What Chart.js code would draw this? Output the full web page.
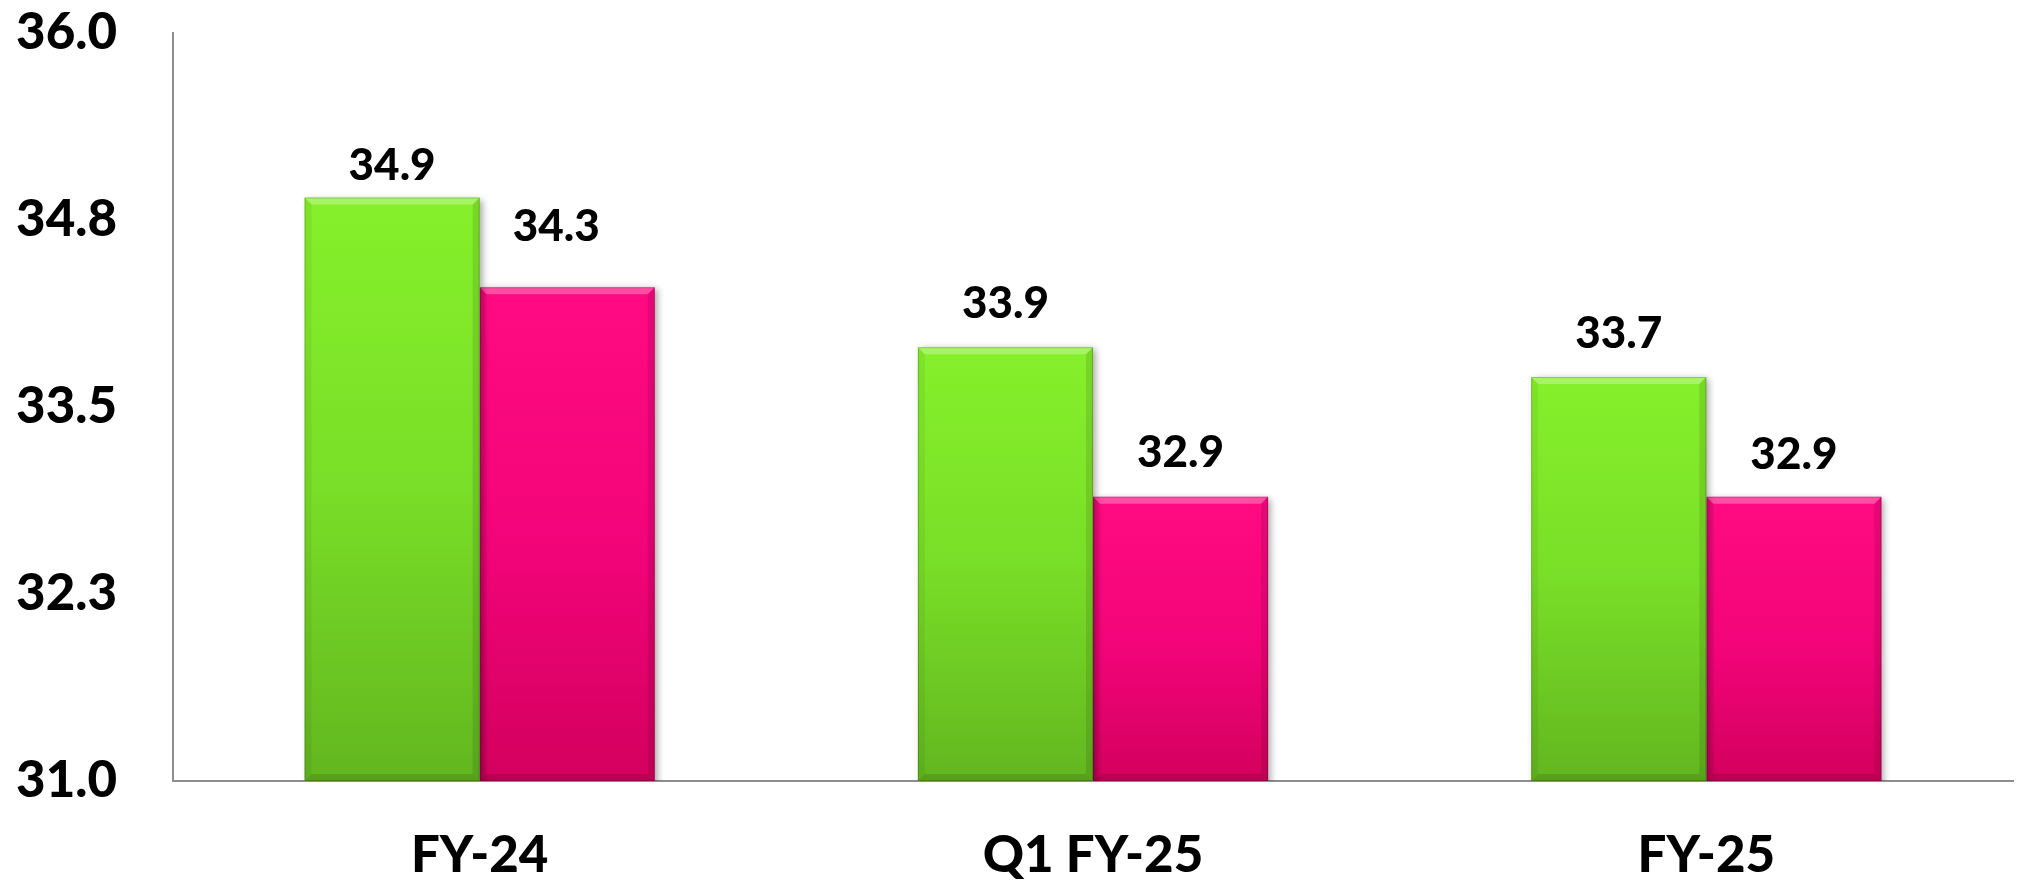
<!DOCTYPE html>
<html>
<head>
<meta charset="utf-8">
<script src="https://cdn.jsdelivr.net/npm/chart.js@4.4.1/dist/chart.umd.min.js"></script>
<style>
  html, body { margin: 0; padding: 0; background: #ffffff; }
  #wrap { width: 2023px; height: 881px; }
</style>
</head>
<body>
<div id="wrap"><canvas id="chart" width="2023" height="881"></canvas></div>
<script>
// Values
const categories = ['FY-24', 'Q1 FY-25', 'FY-25'];
const greenValues = [34.9, 33.9, 33.7];
const pinkValues = [34.3, 32.9, 32.9];
const yTickValues = [31.0, 32.25, 33.5, 34.75, 36.0];

const FONT = 'Lato, "Open Sans", "DejaVu Sans", sans-serif';
const WEIGHT = '900';

// Value-label placement above each bar: [dx, baseline gap above bar top]
const labelPlacement = [
  [[0, 18], [0, 29], [0, 29]],
  [[-11, 46], [0, 30], [0, 28]]
];

function barGradient(topColor, midColor, bottomColor) {
  return function (ctx) {
    const chart = ctx.chart;
    const area = chart.chartArea;
    if (!area || ctx.type !== 'data') return topColor;
    const yTop = chart.scales.y.getPixelForValue(ctx.raw);
    const g = chart.ctx.createLinearGradient(0, yTop, 0, area.bottom);
    g.addColorStop(0, topColor);
    g.addColorStop(0.5, midColor);
    g.addColorStop(1, bottomColor);
    return g;
  };
}

// Soft drop shadow, bevelled edges and value labels
const bevelBars = {
  id: 'bevelBars',
  beforeDatasetDraw(chart) {
    const c = chart.ctx;
    c.save();
    c.shadowColor = 'rgba(0,0,0,0.35)';
    c.shadowBlur = 7;
    c.shadowOffsetX = 3;
    c.shadowOffsetY = 2;
  },
  afterDatasetDraw(chart, args) {
    const c = chart.ctx;
    c.restore();
    const meta = args.meta;
    const area = chart.chartArea;
    const b = 7;
    meta.data.forEach((el) => {
      const p = el.getProps(['x', 'y', 'base', 'width'], true);
      const l = p.x - p.width / 2, r = p.x + p.width / 2, t = p.y;
      const bo = Math.min(p.base, area.bottom);
      c.save();
      // top bevel
      c.beginPath();
      c.moveTo(l, t); c.lineTo(r, t); c.lineTo(r - b, t + b); c.lineTo(l + b, t + b); c.closePath();
      c.fillStyle = 'rgba(255,255,255,0.28)';
      c.fill();
      // left bevel
      c.beginPath();
      c.moveTo(l, t); c.lineTo(l + b, t + b); c.lineTo(l + b, bo - b); c.lineTo(l, bo); c.closePath();
      c.fillStyle = 'rgba(0,0,0,0.05)';
      c.fill();
      // right bevel
      c.beginPath();
      c.moveTo(r, t); c.lineTo(r - b, t + b); c.lineTo(r - b, bo - b); c.lineTo(r, bo); c.closePath();
      c.fillStyle = 'rgba(0,0,0,0.10)';
      c.fill();
      // bottom bevel
      c.beginPath();
      c.moveTo(l, bo); c.lineTo(l + b, bo - b); c.lineTo(r - b, bo - b); c.lineTo(r, bo); c.closePath();
      c.fillStyle = 'rgba(0,0,0,0.12)';
      c.fill();
      // thin outline
      c.strokeStyle = 'rgba(0,0,0,0.18)';
      c.lineWidth = 1;
      c.strokeRect(l + 0.5, t + 0.5, p.width - 1, bo - t - 1);
      c.restore();
    });
  },
  afterDatasetsDraw(chart) {
    const c = chart.ctx;
    c.save();
    c.font = WEIGHT + ' 44px ' + FONT;
    c.fillStyle = '#000000';
    c.textAlign = 'center';
    c.textBaseline = 'alphabetic';
    chart.data.datasets.forEach((ds, di) => {
      const meta = chart.getDatasetMeta(di);
      meta.data.forEach((el, i) => {
        const p = el.getProps(['x', 'y'], true);
        const [dx, gap] = labelPlacement[di][i];
        c.fillText(ds.data[i].toFixed(1), p.x + dx, p.y - gap);
      });
    });
    c.restore();
  }
};

new Chart(document.getElementById('chart'), {
  type: 'bar',
  data: {
    labels: categories,
    datasets: [
      {
        label: 'Series A',
        data: greenValues,
        backgroundColor: barGradient('#86F02B', '#79DE27', '#62B61F'),
        borderWidth: 0,
        categoryPercentage: 0.571,
        barPercentage: 1.0
      },
      {
        label: 'Series B',
        data: pinkValues,
        backgroundColor: barGradient('#FF0A82', '#F4047A', '#D3005E'),
        borderWidth: 0,
        categoryPercentage: 0.571,
        barPercentage: 1.0
      }
    ]
  },
  options: {
    responsive: false,
    animation: false,
    devicePixelRatio: 1,
    layout: { padding: { top: 33, right: 10, bottom: 0, left: 0 } },
    plugins: {
      legend: { display: false },
      tooltip: { enabled: false }
    },
    scales: {
      x: {
        grid: { display: false, drawTicks: false },
        border: { display: true, color: '#8E8E8E', width: 2 },
        ticks: {
          color: '#000000',
          font: { family: FONT, size: 51, weight: WEIGHT },
          padding: 44,
          maxRotation: 0
        },
        afterFit(scale) { scale.height = 100; scale.paddingLeft = 0; scale.paddingRight = 0; }
      },
      y: {
        min: 31,
        max: 36,
        grid: { display: false, drawTicks: false },
        border: { display: true, color: '#8E8E8E', width: 2 },
        afterBuildTicks(scale) { scale.ticks = yTickValues.map(v => ({ value: v })); },
        ticks: {
          color: '#000000',
          font: { family: FONT, size: 51, weight: WEIGHT },
          padding: 56,
          callback: (v) => Number(v).toFixed(1)
        },
        afterFit(scale) { scale.width = 173; scale.paddingTop = 0; scale.paddingBottom = 0; }
      }
    }
  },
  plugins: [bevelBars]
});
</script>
</body>
</html>
